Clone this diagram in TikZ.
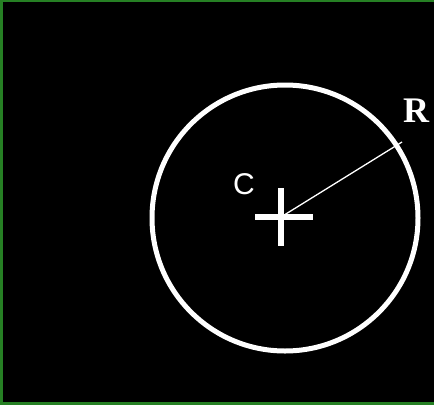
\documentclass[tikz,border=0pt]{standalone}
\usepackage{fontspec}
\newfontfamily\labelsans{Liberation Sans}
\newfontfamily\labelserif{Liberation Serif}
\usepackage{xcolor}
\usepackage{tikz}
\usetikzlibrary{positioning}
\definecolor{frameGreen}{RGB}{38,128,36}

\begin{document}
\begin{tikzpicture}[x=1pt, y=-1pt]
      \useasboundingbox (0,0) rectangle (434,405);
      \fill[black] (0,0) rectangle (434,405);
      \fill[frameGreen] (0,0) rectangle (434,2);
      \fill[frameGreen] (0,0) rectangle (3,405);
      \fill[frameGreen] (0,402) rectangle (434,405);

      \coordinate (centre) at (285,218);
      \coordinate (cross) at (281,217);
      \coordinate (rim) at (402,142);

      \draw[white, line width=5pt] (centre) circle (133pt);
      \draw[white, line width=6pt, shift={(cross)}] (-26,0) -- (32,0);
      \draw[white, line width=6pt, shift={(cross)}] (0,-29) -- (0,29);
      \draw[white, line width=1.3pt] (cross) -- (rim);

      \node[white, font=\labelsans\fontsize{30}{30}\selectfont] (lblC) at (244,184) {C};
      \node[white, font=\labelserif\bfseries\fontsize{36}{36}\selectfont] (lblR) at (416,111) {R};
    \end{tikzpicture}
\end{document}
